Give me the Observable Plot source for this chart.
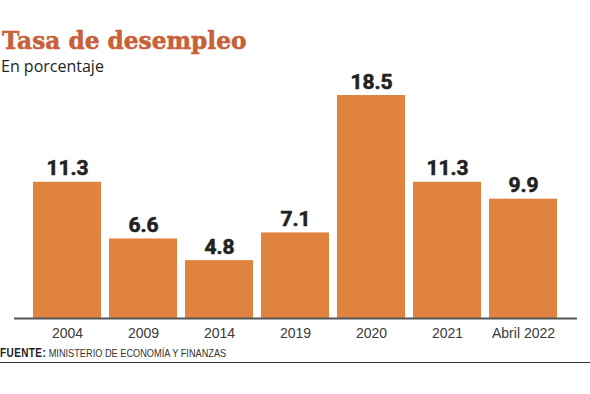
<!DOCTYPE html>
<html>
<head>
<meta charset="utf-8">
<script src="https://cdn.jsdelivr.net/npm/d3@7"></script>
<script src="https://cdn.jsdelivr.net/npm/@observablehq/plot@0.6"></script>
<style>
  html, body { margin: 0; padding: 0; background: #fff; }
  #wrap { position: relative; width: 590px; height: 394px; overflow: hidden; }
  #title { position: absolute; left: 2px; top: 28px; line-height: 1; font-family: "DejaVu Serif", serif; font-weight: bold; font-size: 25px; color: #c8613a; white-space: nowrap; transform: scaleX(0.93); transform-origin: left top; -webkit-text-stroke: 0.6px #c8613a; }
  #subtitle { position: absolute; left: 1px; top: 58px; line-height: 1; font-family: "Open Sans", sans-serif; font-size: 16px; color: #222; white-space: nowrap; }
  #chart { position: absolute; left: 0; top: 56px; }
  #footer { position: absolute; left: 0; top: 347px; line-height: 1; font-family: "Liberation Sans", Arial, sans-serif; font-size: 11.5px; color: #333; white-space: nowrap; transform: scaleX(0.8); transform-origin: left top; }
  #footer b { color: #222; font-size: 12.5px; letter-spacing: 0.5px; }
  #rule { position: absolute; left: 0; width: 590px; top: 362px; height: 0; border-top: 1.5px solid #333; }
</style>
</head>
<body>
<div id="wrap">
  <div id="title">Tasa de desempleo</div>
  <div id="subtitle">En porcentaje</div>
  <div id="chart"></div>
  <div id="footer"><b>FUENTE:</b> MINISTERIO DE ECONOMÍA Y FINANZAS</div>
  <div id="rule"></div>
</div>
<script>
const categories = ["2004", "2009", "2014", "2019", "2020", "2021", "Abril 2022"];
const values = [11.3, 6.6, 4.8, 7.1, 18.5, 11.3, 9.9];
const labels = ["11.3", "6.6", "4.8", "7.1", "18.5", "11.3", "9.9"];

const data = categories.map((c, i) => ({ cat: c, value: values[i], label: labels[i] }));

const chart = Plot.plot({
  width: 590,
  height: 290,
  marginLeft: 31,
  marginRight: 30,
  marginTop: 39,
  marginBottom: 28,
  style: { background: "transparent", overflow: "visible" },
  x: { domain: categories, paddingInner: 0.1, paddingOuter: 0, label: null },
  y: { domain: [0, 18.5], axis: null },
  marks: [
    Plot.barY(data, { x: "cat", y: "value", fill: "#e0833f" }),
    Plot.ruleY([0], { stroke: "#555", strokeWidth: 2, insetLeft: -17, insetRight: -17 }),
    Plot.text(data, { x: "cat", y: "value", text: "label", dy: -7, lineAnchor: "bottom", fontSize: 21, fontWeight: "bold", fill: "#222", stroke: "#222", strokeWidth: 0.6, fontFamily: "Roboto, 'Liberation Sans', sans-serif" }),
    Plot.axisX({ tickSize: 0, tickPadding: 10, fontSize: 14, fill: "#3a3a3a", fontFamily: "'Liberation Sans', Arial, sans-serif", label: null })
  ]
});
document.getElementById("chart").appendChild(chart);
</script>
</body>
</html>
